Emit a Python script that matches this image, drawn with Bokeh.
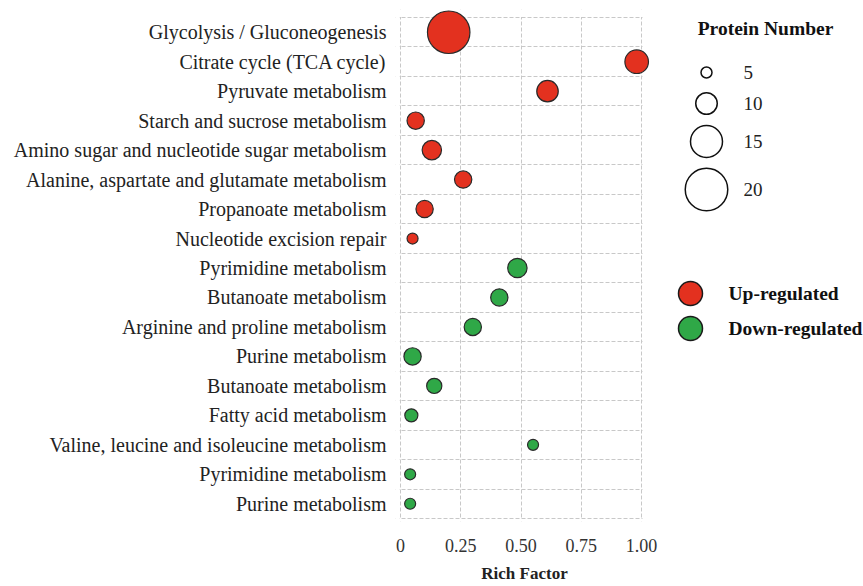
from bokeh.plotting import figure
from bokeh.layouts import row
from bokeh.models import Range1d, FixedTicker, ColumnDataSource, BoxAnnotation
from bokeh.core.properties import value
from bokeh.embed import file_html
from bokeh.resources import INLINE

# ---- data ----
pathways = [
    "Glycolysis / Gluconeogenesis",
    "Citrate cycle (TCA cycle)",
    "Pyruvate metabolism",
    "Starch and sucrose metabolism",
    "Amino sugar and nucleotide sugar metabolism",
    "Alanine, aspartate and glutamate metabolism",
    "Propanoate metabolism",
    "Nucleotide excision repair",
    "Pyrimidine metabolism",
    "Butanoate metabolism",
    "Arginine and proline metabolism",
    "Purine metabolism",
    "Butanoate metabolism",
    "Fatty acid metabolism",
    "Valine, leucine and isoleucine metabolism",
    "Pyrimidine metabolism",
    "Purine metabolism",
]
rich_factor = [0.20, 0.98, 0.61, 0.063, 0.13, 0.26, 0.10, 0.05,
               0.485, 0.41, 0.30, 0.05, 0.14, 0.045, 0.55, 0.04, 0.04]
protein_number = [20, 11, 10, 8, 9, 8, 8, 5,
                  9, 8, 8, 8, 7, 6, 5, 5, 5]
regulation = ["Up"] * 8 + ["Down"] * 9
x_ticks = [0, 0.25, 0.5, 0.75, 1.0]
x_tick_labels = ["0", "0.25", "0.50", "0.75", "1.00"]
legend_sizes = [5, 10, 15, 20]
x_title = "Rich Factor"

RED = "#e3311f"
GREEN = "#2fa847"
SERIF = "Liberation Serif"
GRID = "#c8c8c8"

# ---- layout constants (pixels) ----
W_MAIN, W_LEG, H = 660, 203, 586
F_LEFT, F_RIGHT, F_TOP, F_BOTTOM = 395, 653, 9, 521   # frame edges
X0_PX, X1_PX = 400, 641                              # pixel of x=0 and x=1
BOX_TOP_PX, BOX_BOT_PX = 17, 518                     # pixel of first / last row border

n = len(pathways)
xpx = (X1_PX - X0_PX)
ypx = (BOX_BOT_PX - BOX_TOP_PX) / n
x_start = -(X0_PX - F_LEFT) / xpx
x_end = 1 + (F_RIGHT - X1_PX) / xpx
y_top = -0.5 - (BOX_TOP_PX - F_TOP) / ypx
y_bottom = n - 0.5 + (F_BOTTOM - BOX_BOT_PX) / ypx


def diam(k):
    return 2.1 * k + 0.5


ypos = list(range(n))
src = ColumnDataSource(dict(
    x=rich_factor,
    y=ypos,
    size=[diam(k) for k in protein_number],
    color=[RED if r == "Up" else GREEN for r in regulation],
))

p = figure(width=W_MAIN, height=H, output_backend="svg", toolbar_location=None,
           x_range=Range1d(x_start, x_end), y_range=Range1d(y_bottom, y_top),
           min_border_left=F_LEFT, min_border_right=W_MAIN - F_RIGHT,
           min_border_top=F_TOP, min_border_bottom=H - F_BOTTOM)

# grid, limited to the 0..1 x rows box
p.xgrid.ticker = FixedTicker(ticks=x_ticks)
p.ygrid.ticker = FixedTicker(ticks=[i - 0.5 for i in range(n + 1)])
for g in (p.xgrid, p.ygrid):
    g.grid_line_color = GRID
    g.grid_line_dash = "4 2"
    g.grid_line_width = 1
p.outline_line_color = None
eps = 0.004
for kw in (dict(left=1 + eps), dict(right=-eps),
           dict(bottom=-0.5 - 0.02), dict(top=n - 0.5 + 0.02)):
    p.add_layout(BoxAnnotation(fill_color="white", fill_alpha=1,
                               line_color=None, level="underlay", **kw))

p.scatter("x", "y", size="size", fill_color="color", line_color="#2a2a2a",
          line_width=1.2, source=src)

# y axis
p.yaxis.ticker = FixedTicker(ticks=ypos)
p.yaxis.major_label_overrides = {i: s for i, s in enumerate(pathways)}
p.yaxis.axis_line_color = None
p.yaxis.major_tick_line_color = None
p.yaxis.minor_tick_line_color = None
p.yaxis.major_label_standoff = 3
p.yaxis.major_label_text_font = SERIF
p.yaxis.major_label_text_font_size = "20px"
p.yaxis.major_label_text_color = "#222222"

# x axis
p.xaxis.ticker = FixedTicker(ticks=x_ticks)
p.xaxis.major_label_overrides = {t: l for t, l in zip(x_ticks, x_tick_labels)}
p.xaxis.axis_line_color = None
p.xaxis.major_tick_line_color = None
p.xaxis.minor_tick_line_color = None
p.xaxis.major_tick_out = 0
p.xaxis.major_tick_in = 0
p.xaxis.major_label_standoff = 17
p.xaxis.major_label_text_font = SERIF
p.xaxis.major_label_text_font_size = "18px"
p.xaxis.major_label_text_color = "#333333"
p.xaxis.axis_label = x_title
p.xaxis.axis_label_text_font = SERIF
p.xaxis.axis_label_text_font_style = "bold"
p.xaxis.axis_label_text_font_size = "17px"
p.xaxis.axis_label_text_color = "#222222"
p.xaxis.axis_label_standoff = 9

# ---- legend panel (coordinates: x from panel left, y = page pixel) ----
lg = figure(width=W_LEG, height=H, output_backend="svg", toolbar_location=None,
            x_range=Range1d(0, W_LEG), y_range=Range1d(F_BOTTOM, F_TOP),
            x_axis_location=None, y_axis_location=None,
            min_border_left=0, min_border_right=0,
            min_border_top=F_TOP, min_border_bottom=H - F_BOTTOM)
lg.grid.visible = False
lg.outline_line_color = None

lg.text(x=[105], y=[28], text=["Protein Number"], text_align="center",
        text_baseline="middle", text_font=value(SERIF), text_font_style="bold",
        text_font_size="19.5px", text_color="#111111")
size_y = [72, 103, 141, 189]
lg.scatter(x=[46] * len(legend_sizes), y=size_y,
           size=[diam(k) for k in legend_sizes], fill_color="white",
           line_color="#111111", line_width=1.5)
lg.text(x=[83] * len(legend_sizes), y=size_y, text=[str(s) for s in legend_sizes],
        text_align="left", text_baseline="middle", text_font=value(SERIF),
        text_font_size="19px", text_color="#222222")

lg.scatter(x=[30, 30], y=[293, 328], size=24, fill_color=[RED, GREEN],
           line_color="#1a1a1a", line_width=1.5)
lg.text(x=[68, 68], y=[293, 328], text=["Up-regulated", "Down-regulated"],
        text_align="left", text_baseline="middle", text_font=value(SERIF),
        text_font_style="bold", text_font_size="19.5px", text_color="#111111")

layout = row(p, lg, spacing=0)
open("out.html", "w").write(file_html(layout, INLINE))
